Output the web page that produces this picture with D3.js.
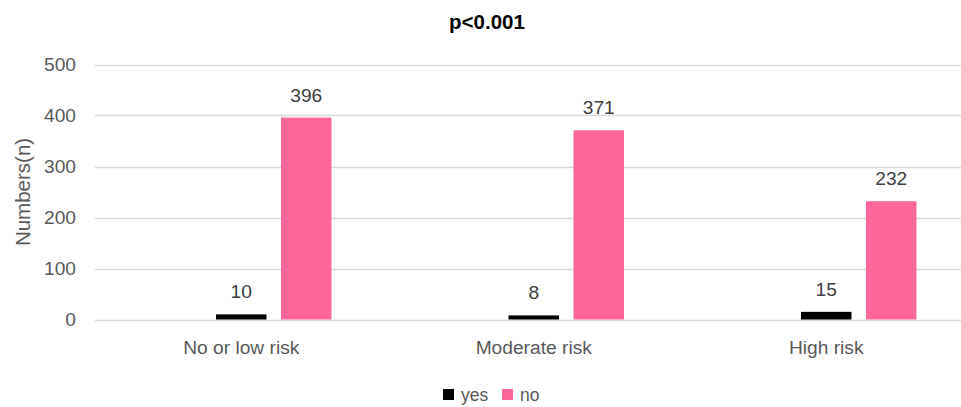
<!DOCTYPE html>
<html><head><meta charset="utf-8">
<script src="https://cdn.jsdelivr.net/npm/d3@7/dist/d3.min.js"></script>
<style>body{margin:0;background:#fff}svg{display:block}</style>
</head><body>
<svg id="c" width="961" height="407"></svg>
<script>
const categories = ["No or low risk", "Moderate risk", "High risk"];
const seriesNames = ["yes", "no"];
const yesValues = [10, 8, 15];
const noValues = [396, 371, 232];
const yTicks = [0, 100, 200, 300, 400, 500];
const title = "p<0.001";
const yLabel = "Numbers(n)";

const colors = {yes: "#000000", no: "#FF6699"};
const font = "'Liberation Sans', Arial, sans-serif";
const svg = d3.select("#c");
const m = {left: 95, right: -11.5, top: 64.5, bottom: 87.5};
const W = 961, H = 407;

const x0 = d3.scaleBand().domain(categories).range([m.left, W - m.right]).paddingInner(0).paddingOuter(0);
// Excel-like slots: an empty slot, then yes (centered), then no
const x1 = d3.scaleBand().domain(["_", "yes", "no"]).range([0, x0.bandwidth()]).paddingInner(0.223).paddingOuter(0.862);
const y = d3.scaleLinear().domain([0, 500]).range([H - m.bottom, m.top]);

// gridlines
svg.append("g").selectAll("line").data(yTicks).join("line")
  .attr("x1", m.left).attr("x2", W - m.right)
  .attr("y1", d => Math.round(y(d)) + 0.5).attr("y2", d => Math.round(y(d)) + 0.5)
  .attr("stroke", "#D9D9D9").attr("stroke-width", 1.3);

// y tick labels
svg.append("g").selectAll("text").data(yTicks).join("text")
  .attr("x", 76).attr("y", d => y(d)).attr("dy", "0.35em")
  .attr("text-anchor", "end").attr("font-family", font).attr("font-size", 19.2)
  .attr("fill", "#595959").text(d => d);

const rows = categories.map((c, i) => ({cat: c, yes: yesValues[i], no: noValues[i]}));
const bars = [];
rows.forEach(r => seriesNames.forEach(s => bars.push({cat: r.cat, s, v: r[s]})));

svg.append("g").selectAll("rect").data(bars).join("rect")
  .attr("x", d => x0(d.cat) + x1(d.s))
  .attr("width", x1.bandwidth())
  .attr("y", d => y(d.v))
  .attr("height", d => y(0) - y(d.v))
  .attr("fill", d => colors[d.s]);

svg.append("g").selectAll("text").data(bars).join("text")
  .attr("x", d => x0(d.cat) + x1(d.s) + x1.bandwidth() / 2)
  .attr("y", d => y(d.v) - 16)
  .attr("text-anchor", "middle").attr("font-family", font).attr("font-size", 19.2)
  .attr("fill", "#404040").text(d => d.v);

// category labels
svg.append("g").selectAll("text").data(categories).join("text")
  .attr("x", d => x0(d) + x1("yes") + x1.bandwidth() / 2)
  .attr("y", 354)
  .attr("text-anchor", "middle").attr("font-family", font).attr("font-size", 19.2)
  .attr("fill", "#595959").text(d => d);

// title
svg.append("text").attr("x", 487).attr("y", 29).attr("text-anchor", "middle")
  .attr("font-family", font).attr("font-size", 20.5).attr("font-weight", "bold")
  .attr("fill", "#000").text(title);

// y axis label
svg.append("text").attr("transform", "translate(30,192) rotate(-90)")
  .attr("text-anchor", "middle").attr("font-family", font).attr("font-size", 20.5)
  .attr("fill", "#595959").text(yLabel);

// legend
const legendX = {yes: 443, no: 502};
const lg = svg.append("g").selectAll("g").data(seriesNames).join("g")
  .attr("transform", d => `translate(${legendX[d]},389)`);
lg.append("rect").attr("width", 11).attr("height", 11).attr("fill", d => colors[d]);
lg.append("text").attr("x", 18).attr("y", 5.5).attr("dy", "0.35em")
  .attr("font-family", font).attr("font-size", 17.5).attr("fill", "#595959").text(d => d);
</script>
</body></html>
